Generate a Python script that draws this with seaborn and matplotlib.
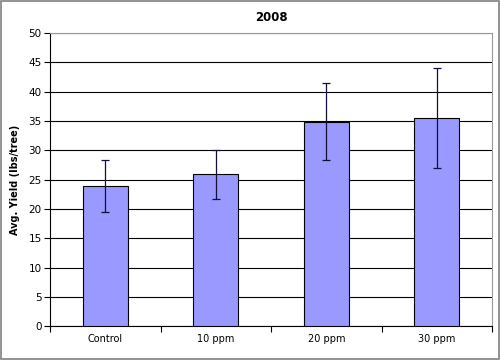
import matplotlib
matplotlib.use("Agg")
import matplotlib.pyplot as plt
import seaborn as sns
import pandas as pd
from matplotlib.patches import Rectangle

# values
treatments = ["Control", "10 ppm", "20 ppm", "30 ppm"]
avg_yield = [23.9, 25.9, 34.9, 35.5]
err = [4.5, 4.2, 6.6, 8.5]

df = pd.DataFrame({"treatment": treatments, "yield": avg_yield})

sns.set_style("white")
plt.rcParams["font.family"] = ["DejaVu Sans"]
plt.rcParams["text.color"] = "black"
plt.rcParams["axes.labelcolor"] = "black"
plt.rcParams["xtick.color"] = "black"
plt.rcParams["ytick.color"] = "black"

fig = plt.figure(figsize=(5, 3.6), dpi=100)
ax = fig.add_axes([0.1, 0.094, 0.884, 0.814])

sns.barplot(data=df, x="treatment", y="yield", color="#9999FF", saturation=1,
            width=0.41, edgecolor="black", linewidth=0.8, ax=ax, zorder=3)
ax.errorbar(range(len(treatments)), avg_yield, yerr=err, fmt="none",
            ecolor="#10103a", elinewidth=0.9, capsize=3, capthick=0.9, zorder=4)

ax.set_ylim(0, 50)
ax.set_xlim(-0.5, len(treatments) - 0.5)
ax.set_yticks(range(0, 51, 5))
ax.yaxis.grid(True, color="black", linewidth=0.8)
ax.set_axisbelow(True)

# ticks between categories on the x axis
ax.set_xticks([i - 0.5 for i in range(len(treatments) + 1)], minor=True)
ax.tick_params(axis="x", which="major", length=0, labelsize=7, pad=6)
ax.tick_params(axis="x", which="minor", length=4, width=0.8, direction="out", bottom=True)
ax.tick_params(axis="y", length=4, width=0.8, direction="out", left=True, labelsize=7.5, pad=2)

for s in ["top", "right"]:
    ax.spines[s].set_color("#999999")
for s in ["left", "bottom"]:
    ax.spines[s].set_color("black")
for s in ax.spines.values():
    s.set_linewidth(0.8)

ax.set_xlabel("")
ax.set_ylabel("Avg. Yield (lbs/tree)", fontsize=7, fontweight="bold", labelpad=6)
ax.set_title("2008", fontsize=8.5, fontweight="bold", pad=9)

fig.add_artist(Rectangle((0.002, 0.003), 0.996, 0.994, transform=fig.transFigure,
                         fill=False, edgecolor="#808080", linewidth=1.2))

fig.savefig("out.png", dpi=100)
